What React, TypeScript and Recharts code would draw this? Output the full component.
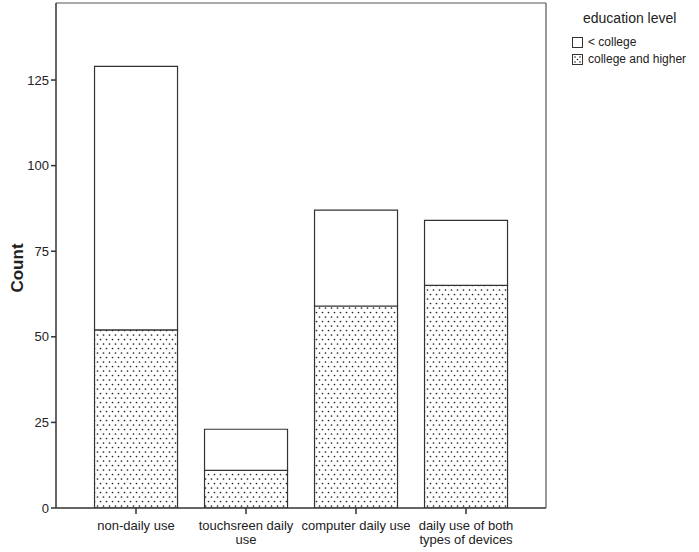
import React from 'react';
import { BarChart, Bar, XAxis, YAxis, Legend } from 'recharts';

const categories = ['non-daily use', 'touchsreen daily\nuse', 'computer daily use', 'daily use of both\ntypes of devices'];
const collegeAndHigher = [52, 11, 59, 65];
const lessThanCollege = [77, 12, 28, 19];
const yTicks = [0, 25, 50, 75, 100, 125];

const data = categories.map((name, i) => ({
  name,
  college: collegeAndHigher[i],
  less: lessThanCollege[i],
}));

const FONT = '"Liberation Sans", Arial, sans-serif';
const INK = '#333';

const XTick = (props: any) => {
  const { x, y, payload } = props;
  const lines = String(payload.value).split('\n');
  return (
    <g transform={`translate(${x},${y})`}>
      {lines.map((l: string, i: number) => (
        <text key={i} x={0} y={14 + i * 14} textAnchor="middle" fontSize={13} fontFamily={FONT} fill="#222">
          {l}
        </text>
      ))}
    </g>
  );
};

const LegendContent = () => (
  <div style={{ fontFamily: FONT, color: '#222' }}>
    <div style={{ fontSize: 14, marginLeft: 23, lineHeight: '17px' }}>education level</div>
    <div style={{ display: 'flex', alignItems: 'center', marginTop: 7, fontSize: 12, lineHeight: '16px' }}>
      <svg width={11} height={11} style={{ marginLeft: 12, marginRight: 5 }}>
        <rect x={0.5} y={0.5} width={10} height={10} fill="#fff" stroke={INK} />
      </svg>
      &lt; college
    </div>
    <div style={{ display: 'flex', alignItems: 'center', marginTop: 1, fontSize: 12, lineHeight: '16px' }}>
      <svg width={11} height={11} style={{ marginLeft: 12, marginRight: 5 }}>
        <rect x={0.5} y={0.5} width={10} height={10} fill="#fff" stroke={INK} />
        <circle cx={3} cy={3} r={0.8} fill="#222" />
        <circle cx={8} cy={3} r={0.8} fill="#222" />
        <circle cx={3} cy={8} r={0.8} fill="#222" />
        <circle cx={8} cy={8} r={0.8} fill="#222" />
        <circle cx={5.5} cy={5.5} r={0.8} fill="#222" />
      </svg>
      college and higher
    </div>
  </div>
);

export default function App() {
  return (
    <div style={{ position: 'absolute', left: 0, top: 0, background: '#fff' }}>
      <BarChart
        width={699}
        height={552}
        data={data}
        margin={{ top: 2, right: 152, bottom: 0, left: 0 }}
        barCategoryGap="12.3%"
      >
        <defs>
          <pattern id="dots" patternUnits="userSpaceOnUse" width={6} height={9}>
            <rect x={0} y={0} width={6} height={9} fill="#fff" />
            <circle cx={1.5} cy={2} r={0.85} fill="#222" />
            <circle cx={4.5} cy={6.5} r={0.85} fill="#222" />
          </pattern>
        </defs>
        <XAxis
          dataKey="name"
          height={44}
          interval={0}
          padding={{ left: 25, right: 25 }}
          tickSize={6}
          tickLine={{ stroke: INK, strokeWidth: 1.5 }}
          axisLine={{ stroke: INK, strokeWidth: 1.5 }}
          tick={<XTick />}
        />
        <XAxis
          xAxisId="top"
          dataKey="name"
          orientation="top"
          height={1}
          tick={false}
          tickLine={false}
          axisLine={{ stroke: '#555', strokeWidth: 1.2 }}
        />
        <YAxis
          width={56}
          domain={[0, 147.5]}
          ticks={yTicks}
          tickSize={5}
          tickMargin={2}
          allowDataOverflow
          tick={{ fontSize: 13, fontFamily: FONT, fill: '#222' }}
          tickLine={{ stroke: INK, strokeWidth: 1.5 }}
          axisLine={{ stroke: INK, strokeWidth: 1.5 }}
          label={{
            content: () => (
              <text
                x={0}
                y={0}
                transform="translate(23,268) rotate(-90)"
                textAnchor="middle"
                fontSize={17}
                fontWeight="bold"
                fontFamily={FONT}
                fill="#222"
              >
                Count
              </text>
            ),
          }}
        />
        <YAxis
          yAxisId="right"
          orientation="right"
          width={1}
          domain={[0, 147.5]}
          tick={false}
          tickLine={false}
          axisLine={{ stroke: '#555', strokeWidth: 1.2 }}
        />
        <Legend
          layout="vertical"
          align="center"
          verticalAlign="middle"
          wrapperStyle={{ left: 560, top: 10, width: 139 }}
          content={<LegendContent />}
        />
        <Bar dataKey="college" stackId="a" fill="url(#dots)" stroke={INK} strokeWidth={1.2} isAnimationActive={false} />
        <Bar dataKey="less" stackId="a" fill="#fff" stroke={INK} strokeWidth={1.2} isAnimationActive={false} />
      </BarChart>
    </div>
  );
}
